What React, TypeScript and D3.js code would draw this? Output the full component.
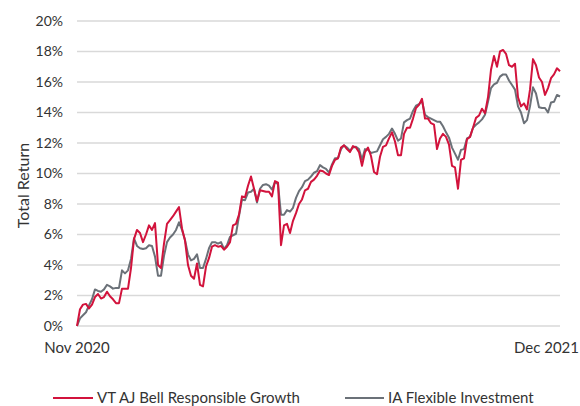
import React from "react";
import * as d3 from "d3";

const yTicks = [0, 2, 4, 6, 8, 10, 12, 14, 16, 18, 20];
const xLabels = ["Nov 2020", "Dec 2021"];
const seriesNames = ["VT AJ Bell Responsible Growth", "IA Flexible Investment"];

const fundValues = [
  0.0, 1.1, 1.4, 1.45, 1.15, 1.4, 1.9, 2.1, 1.8, 1.9,
  2.25, 1.95, 1.75, 1.5, 1.5, 2.45, 2.45, 2.45, 3.8, 5.7,
  6.3, 6.1, 5.5, 6.0, 6.6, 6.3, 6.75, 4.0, 3.8, 5.4,
  6.7, 6.95, 7.2, 7.5, 7.8, 6.4, 5.6, 4.0, 3.3, 3.1,
  4.1, 2.7, 2.6, 3.9, 4.45, 5.2, 5.3, 5.2, 5.25, 5.0,
  5.2, 5.5, 6.6, 6.7, 7.3, 8.5, 8.45, 9.2, 9.8, 9.0,
  8.2, 8.9, 8.85, 8.8, 8.8, 8.5, 9.5, 9.4, 5.3, 6.6,
  6.7, 6.1, 6.9, 7.4, 8.0, 8.3, 8.9, 9.0, 9.45, 9.6,
  9.85, 10.2, 10.15, 10.0, 9.9, 10.5, 10.9, 11.0, 11.7, 11.85,
  11.6, 11.4, 11.8, 11.7, 11.4, 10.5, 11.4, 11.7, 11.15, 10.1,
  9.95, 11.1, 11.75, 11.85, 12.3, 12.7, 12.1, 11.2, 11.2, 12.6,
  13.0, 13.0, 13.6, 14.3, 14.5, 14.9, 13.6, 13.6, 13.3, 13.2,
  11.6, 12.3, 12.6, 12.4, 11.9, 10.5, 10.4, 9.0, 10.9, 11.0,
  12.25, 12.4, 13.0, 13.65, 13.8, 14.25, 13.95, 15.0, 16.8, 17.7,
  17.0, 18.0, 18.1, 17.85, 17.1, 17.0, 17.2, 15.0, 14.4, 14.6,
  14.2, 15.5, 17.5, 17.1, 16.3, 16.0, 15.15, 15.6, 16.25, 16.5,
  16.9, 16.7,
];

const sectorValues = [
  0.0, 0.5, 0.7, 0.9, 1.35, 1.75, 2.4, 2.3, 2.25, 2.4,
  2.7, 2.6, 2.45, 2.5, 2.5, 3.65, 3.45, 3.65, 4.4, 5.75,
  5.25, 5.1, 5.05, 5.1, 5.3, 5.25, 4.55, 3.3, 3.3, 4.6,
  5.5, 5.8, 6.0, 6.3, 6.8, 6.3, 5.65, 4.7, 4.3, 4.4,
  4.7, 3.8, 3.8, 4.4, 5.1, 5.5, 5.5, 5.4, 5.5, 5.05,
  5.3, 5.85, 5.95, 6.05, 7.2, 8.3, 8.25, 8.75, 8.8, 9.0,
  8.1, 9.0, 9.25, 9.3, 9.2, 8.95, 9.45, 9.3, 7.3, 7.3,
  7.6, 7.5, 7.75, 8.4, 8.85, 9.1, 9.5, 9.6, 9.8, 10.05,
  10.15, 10.55, 10.4, 10.3, 10.05, 10.6, 11.0, 11.0, 11.6, 11.85,
  11.7, 11.5, 11.7, 11.75, 11.6, 10.9, 11.6, 11.55, 11.35, 11.4,
  11.45, 11.85, 12.25, 12.4, 12.6, 12.95, 12.6, 12.15, 12.3, 13.35,
  13.5, 13.6, 14.1, 14.45, 14.55, 14.75, 13.85, 13.7, 13.6, 13.5,
  13.4, 13.4, 13.1, 12.7, 12.35, 11.7, 11.3, 10.9, 11.55, 11.6,
  12.3, 12.4, 13.0, 13.2, 13.35, 13.55, 13.85, 14.7, 15.6, 15.85,
  15.95, 16.35, 16.5, 16.5, 16.1, 15.8, 15.5, 14.4, 14.0, 13.3,
  13.5, 14.4, 15.65, 15.25, 14.35, 14.3, 14.3, 14.0, 14.65, 14.7,
  15.15, 15.05,
];

const colors = ["#d2133c", "#6b7178"];
const FONT = "'Source Sans Pro', Lato, 'Open Sans', sans-serif";

export default function App() {
  const W = 580, H = 406;
  const left = 77, right = 560, top = 21, bottom = 326;
  const x = d3.scaleLinear().domain([0, fundValues.length - 1]).range([left, right]);
  const y = d3.scaleLinear().domain([0, 20]).range([bottom, top]);
  const line = d3.line<number>().x((_, i) => x(i)).y((d) => y(d)).curve(d3.curveLinear);

  return (
    <svg width={W} height={H} style={{ position: "absolute", left: 0, top: 0 }} fontFamily={FONT}>
      <rect width={W} height={H} fill="#fff" />
      {yTicks.map((t) => (
        <g key={t}>
          <line x1={left} x2={right} y1={y(t)} y2={y(t)} stroke="#d9d9d9" strokeWidth={1.5} />
          <text x={63} y={y(t)} dy="0.35em" textAnchor="end" fontSize={14} fill="#333">{t}%</text>
        </g>
      ))}
      <text transform="translate(29,185.5) rotate(-90)" textAnchor="middle" fontSize={16} fill="#333">Total Return</text>
      <text x={x(0)} y={353} textAnchor="middle" fontSize={15} fill="#333">{xLabels[0]}</text>
      <text x={579} y={353} textAnchor="end" fontSize={15} fill="#333">{xLabels[1]}</text>
      <path d={line(sectorValues) || ""} fill="none" stroke={colors[1]} strokeWidth={2} strokeLinejoin="round" />
      <path d={line(fundValues) || ""} fill="none" stroke={colors[0]} strokeWidth={2} strokeLinejoin="round" />
      <g>
        <line x1={53} x2={93} y1={398} y2={398} stroke={colors[0]} strokeWidth={2} />
        <text x={97} y={402.5} fontSize={15} fill="#333">{seriesNames[0]}</text>
        <line x1={345} x2={384} y1={398} y2={398} stroke={colors[1]} strokeWidth={2} />
        <text x={388} y={402.5} fontSize={15} fill="#333">{seriesNames[1]}</text>
      </g>
    </svg>
  );
}
